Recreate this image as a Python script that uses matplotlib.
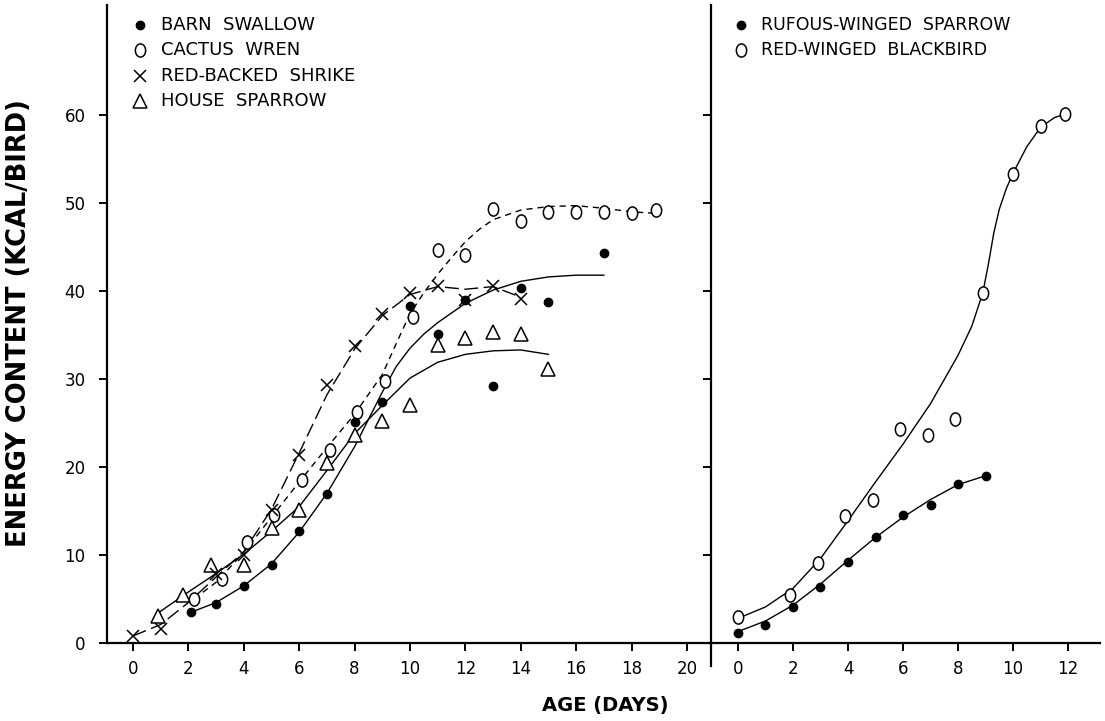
import matplotlib
matplotlib.use('Agg')
import matplotlib.pyplot as plt
from matplotlib.path import Path
from matplotlib.lines import Line2D

plt.rcParams['font.family'] = ['DejaVu Sans']
plt.rcParams['lines.scale_dashes'] = False

# ---------------- data ----------------
# Left panel
barn_days = [2.1, 3, 4, 5, 6, 7, 8, 9, 10, 11, 12, 13, 14, 15, 17]
barn_kcal = [3.5, 4.4, 6.5, 8.9, 12.7, 16.9, 25.1, 27.4, 38.3, 35.1, 39.0, 29.2, 40.3, 38.7, 44.3]
barn_curve_days = [2.1, 3, 4, 5, 6, 7, 8, 8.5, 9, 9.5, 10, 10.5, 11, 12, 13, 14, 15, 16, 17]
barn_curve_kcal = [3.5, 4.6, 6.5, 9.0, 12.6, 17.0, 22.3, 25.4, 28.5, 31.4, 33.5, 35.1, 36.4, 38.6, 40.1, 41.1, 41.6, 41.8, 41.8]

wren_days = [2.2, 3.2, 4.1, 5.1, 6.1, 7.1, 8.1, 9.1, 10.1, 11, 12, 13, 14, 15, 16, 17, 18, 18.9]
wren_kcal = [5.0, 7.3, 11.5, 14.5, 18.5, 21.9, 26.3, 29.8, 37.1, 44.7, 44.1, 49.3, 48.0, 49.0, 49.0, 49.0, 48.9, 49.2]
wren_curve_days = [2.2, 3, 4, 5, 6, 7, 8, 9, 9.5, 10, 10.5, 11, 11.5, 12, 12.5, 13, 14, 15, 16, 17, 18, 19]
wren_curve_kcal = [5.0, 6.9, 10.3, 14.3, 18.3, 22.2, 26.0, 30.5, 34.0, 37.4, 39.8, 41.9, 43.8, 45.6, 47.0, 48.1, 49.2, 49.6, 49.7, 49.4, 49.0, 48.8]

shrike_days = [0, 1, 3, 4, 5, 6, 7, 8, 9, 10, 11, 12, 13, 14]
shrike_kcal = [0.8, 1.6, 7.8, 10.0, 15.1, 21.4, 29.3, 33.8, 37.4, 39.8, 40.6, 39.0, 40.6, 39.1]
shrike_curve_days = [0, 1, 2, 3, 4, 5, 6, 7, 8, 9, 10, 11, 12, 13, 14]
shrike_curve_kcal = [0.8, 2.1, 4.6, 7.5, 10.4, 15.2, 21.6, 28.2, 33.4, 37.2, 39.6, 40.5, 40.2, 40.5, 39.3]

house_days = [0.9, 1.8, 2.8, 4, 5, 6, 7, 8, 9, 10, 11, 12, 13, 14, 15]
house_kcal = [3.1, 5.4, 8.9, 8.9, 13.1, 15.1, 20.4, 23.6, 25.2, 27.0, 33.9, 34.7, 35.3, 35.1, 31.1]
house_curve_days = [0.9, 2, 3, 4, 5, 6, 7, 8, 9, 10, 11, 12, 13, 14, 15]
house_curve_kcal = [3.4, 5.8, 7.9, 10.1, 12.7, 15.5, 19.6, 23.8, 27.0, 30.1, 31.9, 32.8, 33.2, 33.3, 32.8]

# Right panel
rufous_days = [0, 1, 2, 3, 4, 5, 6, 7, 8, 9]
rufous_kcal = [1.1, 2.0, 4.1, 6.4, 9.2, 12.1, 14.6, 15.7, 18.1, 19.0]
rufous_curve_days = [0, 1, 2, 3, 4, 5, 6, 7, 8, 9]
rufous_curve_kcal = [1.3, 2.5, 4.3, 6.7, 9.4, 12.0, 14.3, 16.3, 18.0, 19.0]

redwing_days = [0, 1.9, 2.9, 3.9, 4.9, 5.9, 6.9, 7.9, 8.9, 10, 11, 11.9]
redwing_kcal = [3.0, 5.5, 9.1, 14.4, 16.2, 24.3, 23.6, 25.4, 39.8, 53.3, 58.7, 60.1]
redwing_curve_days = [0, 1, 2, 3, 4, 5, 6, 7, 8, 8.5, 8.9, 9.1, 9.3, 9.5, 9.75, 10, 10.5, 11, 11.5, 11.9]
redwing_curve_kcal = [2.8, 4.1, 6.2, 9.6, 13.9, 18.3, 22.6, 27.2, 32.7, 36.0, 39.8, 43.0, 46.6, 49.3, 51.6, 53.4, 56.4, 58.6, 59.7, 60.1]

left_xticks = [0, 2, 4, 6, 8, 10, 12, 14, 16, 18, 20]
right_xticks = [0, 2, 4, 6, 8, 10, 12]
yticks = [0, 10, 20, 30, 40, 50, 60]

left_legend = ["BARN  SWALLOW", "CACTUS  WREN", "RED-BACKED  SHRIKE", "HOUSE  SPARROW"]
right_legend = ["RUFOUS-WINGED  SPARROW", "RED-WINGED  BLACKBIRD"]
xlabel = "AGE (DAYS)"
ylabel = "ENERGY CONTENT (KCAL/BIRD)"

# ---------------- styles ----------------
circ = Path.unit_circle()
OPEN_O = Path(circ.vertices * [0.78, 1.0], circ.codes)

filled = dict(marker='o', ms=6, color='black', ls='none', zorder=5)
opened = dict(marker=OPEN_O, ms=9.5, mfc='white', mec='black', mew=1.1, ls='none', zorder=5)
crossm = dict(marker='x', ms=8, color='black', mew=1.1, ls='none', zorder=5)
triang = dict(marker='^', ms=10, mfc='white', mec='black', mew=1.1, ls='none', zorder=5)

W, H = 1105, 721
fig = plt.figure(figsize=(W / 100, H / 100), dpi=100)


def fx(px):
    return px / W


def fy(py):
    return 1 - py / H


X_AXIS = 643
TOP = 5
DIV = 711
axL = fig.add_axes([fx(107), fy(X_AXIS), fx(DIV) - fx(107), fy(TOP) - fy(X_AXIS)])
axR = fig.add_axes([fx(DIV), fy(X_AXIS), fx(1100) - fx(DIV), fy(TOP) - fy(X_AXIS)])

for ax in (axL, axR):
    ax.set_ylim(0, 72.5)
    ax.spines['top'].set_visible(False)
    ax.spines['right'].set_visible(False)
    for s in ('left', 'bottom'):
        ax.spines[s].set_linewidth(1.6)
    ax.set_yticks(yticks)
    ax.tick_params(axis='both', direction='out', length=5.5, width=1.4, labelsize=12)
    ax.tick_params(axis='x', pad=7)
    ax.tick_params(axis='y', pad=10)
    ax.patch.set_alpha(0)

axL.set_xlim(-0.94, 20.87)
axR.set_xlim(-0.98, 13.16)
axL.set_xticks(left_xticks)
axR.set_xticks(right_xticks)
axR.tick_params(axis='y', labelleft=False)

# curves
lw = 1.0
axL.plot(barn_curve_days, barn_curve_kcal, color='black', lw=lw)
axL.plot(house_curve_days, house_curve_kcal, color='black', lw=lw)
axL.plot(wren_curve_days, wren_curve_kcal, color='black', lw=lw, dashes=(4.5, 3.5))
axL.plot(shrike_curve_days, shrike_curve_kcal, color='black', lw=lw, dashes=(10, 4))
axR.plot(rufous_curve_days, rufous_curve_kcal, color='black', lw=lw)
axR.plot(redwing_curve_days, redwing_curve_kcal, color='black', lw=lw)

# points
axL.plot(house_days, house_kcal, **triang)
axL.plot(wren_days, wren_kcal, **opened)
axL.plot(shrike_days, shrike_kcal, **crossm)
axL.plot(barn_days, barn_kcal, **filled)
axR.plot(redwing_days, redwing_kcal, **opened)
axR.plot(rufous_days, rufous_kcal, **filled)

# divider extension below the x axis
fig.add_artist(Line2D([fx(DIV), fx(DIV)], [fy(X_AXIS), fy(666)], color='black', lw=1.6,
                      transform=fig.transFigure))

# legends (manual)
left_styles = [filled, opened, crossm, triang]
for i, (lab, st) in enumerate(zip(left_legend, left_styles)):
    y = fy(25 + 25.4 * i)
    st2 = {k: v for k, v in st.items() if k not in ('ls', 'zorder')}
    fig.add_artist(Line2D([fx(140)], [y], ls='none', transform=fig.transFigure, **st2))
    fig.text(fx(161), y, lab, fontsize=13, va='center', ha='left')

right_styles = [filled, opened]
for i, (lab, st) in enumerate(zip(right_legend, right_styles)):
    y = fy(25 + 25 * i)
    st2 = {k: v for k, v in st.items() if k not in ('ls', 'zorder')}
    fig.add_artist(Line2D([fx(741)], [y], ls='none', transform=fig.transFigure, **st2))
    fig.text(fx(761), y, lab, fontsize=12.5, va='center', ha='left')

# axis titles
fig.text(fx(605), fy(705), xlabel, ha='center', va='center', fontsize=14, fontweight='bold')
fig.text(fx(19), fy(323), ylabel, rotation=90, ha='center', va='center',
         fontsize=18.5, fontweight='bold')

fig.savefig('out.png', dpi=100)
